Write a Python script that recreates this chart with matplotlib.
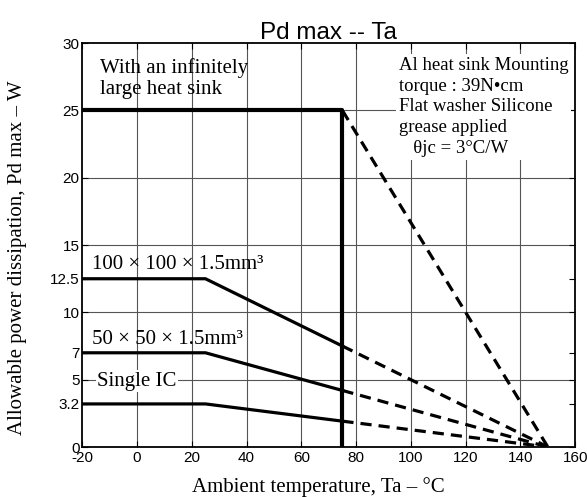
import matplotlib.pyplot as plt

# derating data (Ta in degC, Pd in W)
t_flat = [-20, 25]
t_knee = 75
t_zero = 150
infinite_pd = 25
board_names = ["100 × 100 × 1.5mm³", "50 × 50 × 1.5mm³", "Single IC"]
board_pd = [12.5, 7, 3.2]
board_pd_75 = [7.5, 4.2, 1.92]

xticks = [-20, 0, 20, 40, 60, 80, 100, 120, 140, 160]
yticks = [0, 3.2, 5, 7, 10, 12.5, 15, 20, 25, 30]
ytick_labels = ["0", "3.2", "5", "7", "10", "12.5", "15", "20", "25", "30"]

serif = ["Liberation Serif", "DejaVu Serif"]
plt.rcParams['font.family'] = ["Liberation Sans", "DejaVu Sans"]
plt.rcParams['axes.unicode_minus'] = False

fig = plt.figure(figsize=(5.87, 4.97), dpi=100)
ax = fig.add_axes([0.14, 0.1006, 0.84, 0.8125])

# grid
for gx in range(0, 160, 20):
    ax.axvline(gx, color="#555555", lw=0.8, zorder=1)
for gy in [5, 10, 15, 20, 25]:
    ax.axhline(gy, color="#555555", lw=0.8, zorder=1)

dash = (0, (3.5, 2.2))

# infinite heat sink
ax.plot([-20, t_knee, t_knee], [infinite_pd, infinite_pd, 0], color="black", lw=3, zorder=3)
ax.plot([t_knee, t_zero], [infinite_pd, 0], color="black", lw=2.3, ls=dash, zorder=3)

# boards
for pd, pd75 in zip(board_pd, board_pd_75):
    ax.plot([t_flat[0], t_flat[1], t_knee], [pd, pd, pd75], color="black", lw=2.3, zorder=3)
    ax.plot([t_knee, t_zero], [pd75, 0], color="black", lw=2.3, ls=dash, zorder=3)

ax.set_xlim(-20, 160)
ax.set_ylim(0, 30)
ax.set_xticks(xticks)
ax.set_yticks(yticks)
ax.set_yticklabels(ytick_labels)
ax.tick_params(direction="in", top=True, right=True, labelsize=11, length=4, pad=2)
ax.tick_params(axis="x", pad=3)
for s in ax.spines.values():
    s.set_linewidth(1.3)

ax.set_title("Pd max -- Ta", fontsize=17.5, pad=3)
ax.set_xlabel("Ambient temperature, Ta – °C", family=serif, fontsize=15)
ax.set_ylabel("Allowable power dissipation, Pd max – W", family=serif, fontsize=15)
ax.xaxis.set_label_coords(0.479, -0.075)
ax.yaxis.set_label_coords(-0.112, 0.468)

# labels
ax.text(-13.5, 28.9, "With an infinitely\nlarge heat sink", family=serif, fontsize=15,
        va="top", ha="left", linespacing=1.15, zorder=4)
ax.text(-16.5, 12.85, board_names[0], family=serif, fontsize=15, va="bottom", zorder=4)
ax.text(-16.5, 7.3, board_names[1], family=serif, fontsize=15, va="bottom", zorder=4)
ax.text(-14.5, 4.9, board_names[2], family=serif, fontsize=15, va="center", zorder=4,
        bbox=dict(facecolor="white", edgecolor="none", pad=1))
ax.text(95.5, 29.0, "Al heat sink Mounting\ntorque : 39N•cm\nFlat washer Silicone\ngrease applied\n   θjc = 3°C/W",
        family=serif, fontsize=13.5, va="top", ha="left", linespacing=1.3, zorder=4,
        bbox=dict(facecolor="white", edgecolor="none", pad=2))

fig.savefig("out.png", dpi=100)
